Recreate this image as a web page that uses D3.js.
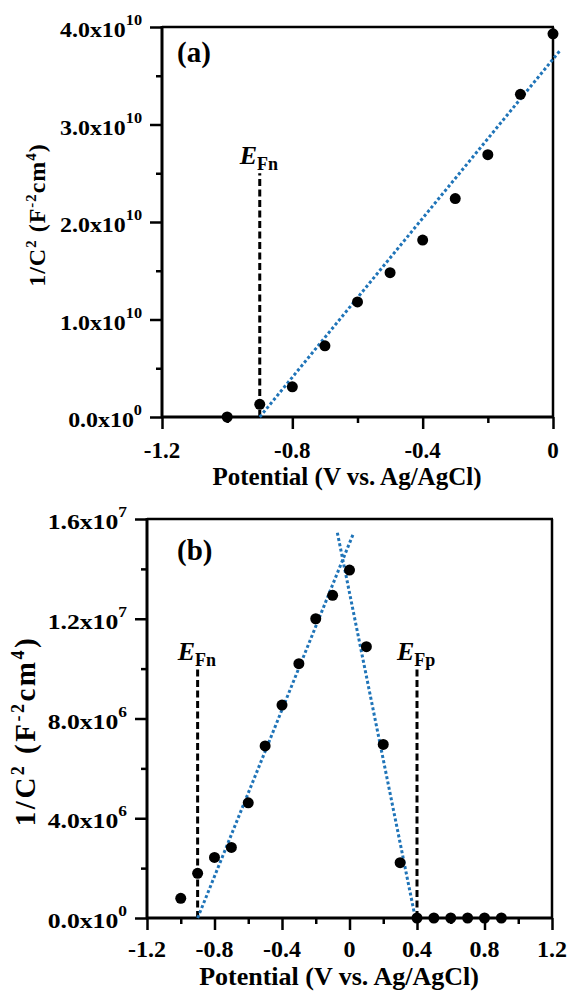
<!DOCTYPE html>
<html><head><meta charset="utf-8">
<script src="https://cdn.jsdelivr.net/npm/d3@7"></script>
<style>
body{margin:0;background:#fff}
svg{display:block}
</style>
</head><body><svg id="c" width="569" height="995"></svg>
<script>
// ---- Panel (a) data ----
const potentialA = [-1.0,-0.9,-0.8,-0.7,-0.6,-0.5,-0.4,-0.3,-0.2,-0.1,0.0];
const invC2A = [0.0,0.13e10,0.31e10,0.73e10,1.18e10,1.48e10,1.815e10,2.24e10,2.69e10,3.31e10,3.93e10];
const fitA_x = [-0.9, 0.022];
const fitA_y = [0, 3.76e10];
const efnA = [-0.9, 2.5e10];
const xTicksA = [-1.2,-0.8,-0.4,0];
const xMinorA = [-1.0,-0.6,-0.2];
const yTicksA = [0,1e10,2e10,3e10,4e10];
const yMinorA = [0.5e10,1.5e10,2.5e10,3.5e10];

// ---- Panel (b) data ----
const potentialB = [-1.0,-0.9,-0.8,-0.7,-0.6,-0.5,-0.4,-0.3,-0.2,-0.1,0.0,0.1,0.2,0.3,0.4,0.5,0.6,0.7,0.8,0.9];
const invC2B = [0.79e6,1.79e6,2.43e6,2.83e6,4.62e6,6.9e6,8.54e6,10.2e6,12.0e6,12.94e6,13.95e6,10.88e6,6.96e6,2.22e6,0,0,0,0,0,0];
const fitB1_x = [-0.9, 0.025];
const fitB1_y = [0, 15.45e6];
const fitB2_x = [-0.072, 0.39];
const fitB2_y = [15.45e6, 0];
const efnB = [-0.9, 10e6];
const efpB = [0.4, 10e6];
const xTicksB = [-1.2,-0.8,-0.4,0,0.4,0.8,1.2];
const xMinorB = [-1.0,-0.6,-0.2,0.2,0.6,1.0];
const yTicksB = [0,4e6,8e6,12e6,16e6];
const yMinorB = [2e6,6e6,10e6,14e6];

const xTitle = "Potential (V vs. Ag/AgCl)";
const FONT = "'Liberation Serif', 'Times New Roman', Tinos, serif";

const svg = d3.select("#c");
svg.append("rect").attr("width",569).attr("height",995).attr("fill","#fff");

function sci(v){
  if(v===0) return ["0.0","0"];
  const e = Math.floor(Math.log10(v)+1e-9);
  return [(v/Math.pow(10,e)).toFixed(1), String(e)];
}
function T(sel){ return sel.append("text").attr("font-family",FONT).attr("font-weight","bold").attr("fill","#000"); }

function panel(o){
  const g = svg.append("g");
  const x = d3.scaleLinear().domain(o.xd).range([o.L,o.R]);
  const y = d3.scaleLinear().domain(o.yd).range([o.B,o.T]);

  g.append("line").attr("x1",o.L).attr("x2",o.R+1).attr("y1",o.T).attr("y2",o.T).attr("stroke","#000").attr("stroke-width",2.5);
  g.append("line").attr("x1",o.R).attr("x2",o.R).attr("y1",o.T).attr("y2",o.B).attr("stroke","#000").attr("stroke-width",2.5);

  const ax = g.append("g").attr("transform",`translate(0,${o.B})`)
    .call(d3.axisBottom(x).tickValues(o.xt).tickSize(12).tickFormat(""));
  g.append("g").attr("transform",`translate(0,${o.B})`)
    .call(d3.axisBottom(x).tickValues(o.xm).tickSize(6).tickFormat(""))
    .select(".domain").remove();
  const ay = g.append("g").attr("transform",`translate(${o.L},0)`)
    .call(d3.axisLeft(y).tickValues(o.yt).tickSize(12).tickFormat(""));
  g.append("g").attr("transform",`translate(${o.L},0)`)
    .call(d3.axisLeft(y).tickValues(o.ym).tickSize(6).tickFormat(""))
    .select(".domain").remove();
  g.selectAll(".domain").attr("stroke-width",3);
  g.selectAll(".tick line").attr("stroke-width",2.5);
  ax.select(".domain").attr("d",`M${o.L-1},0H${o.R+1}`);
  ay.select(".domain").attr("d",`M0,${o.B+1}V${o.T-1}`);

  // x tick labels
  g.selectAll(".xl").data(o.xt).join(e=>T(e)).attr("class","xl")
    .attr("x",d=>x(d)).attr("y",o.B+o.xlOff).attr("text-anchor","middle")
    .attr("font-size",o.xfs).text(d=>d===0?"0":d.toFixed(1));

  // y tick labels (horizontally widened like the reference lettering)
  const yl = g.selectAll(".yl").data(o.yt).join(e=>T(e)).attr("class","yl")
    .attr("x",0).attr("y",0).attr("text-anchor","end").attr("font-size",o.yfs);
  yl.each(function(d){
    const p = sci(d); const t = d3.select(this);
    t.append("tspan").text(p[0]+"x10");
    t.append("tspan").attr("font-size",o.yfs*0.68).attr("dy",-12).text(p[1]);
  });
  let wmax = 0; yl.each(function(){ wmax = Math.max(wmax, this.getBBox().width); });
  const sx = o.ylW / wmax;
  yl.attr("transform", d=>`translate(${o.L-20},${y(d)+10}) scale(${sx},1)`);

  // x title
  T(g).attr("x",o.xtX).attr("y",o.B+o.xtOff).attr("text-anchor","middle")
    .attr("font-size",o.tfs).text(xTitle);
  // y title
  const yt = T(g).attr("transform",`translate(${o.ytX},${o.ytY}) rotate(-90)`)
    .attr("text-anchor","middle").attr("font-size",o.ytFs).attr("letter-spacing",o.ytLs);
  const sup = o.ytFs*0.62, sh = o.ytFs*0.38;
  yt.append("tspan").text("1/C");
  yt.append("tspan").attr("font-size",sup).attr("dy",-sh).text("2");
  yt.append("tspan").attr("dy",sh).text(" (F");
  yt.append("tspan").attr("font-size",sup).attr("dy",-sh).text("-2");
  yt.append("tspan").attr("dy",sh).text("cm");
  yt.append("tspan").attr("font-size",sup).attr("dy",-sh).text("4");
  yt.append("tspan").attr("dy",sh).text(")");

  // panel label
  T(g).attr("x",177).attr("y",o.lblY).attr("font-size",29).text(o.lbl);

  // Fermi level markers
  o.fermi.forEach(f=>{
    g.append("line").attr("x1",x(f.v[0])).attr("x2",x(f.v[0])).attr("y1",y(0)).attr("y2",y(f.v[1]))
      .attr("stroke","#000").attr("stroke-width",3).attr("stroke-dasharray","7,3.5");
    const t = T(g).attr("x",x(f.v[0])-20).attr("y",y(f.v[1])-9).attr("font-size",26);
    t.append("tspan").attr("font-style","italic").text("E");
    t.append("tspan").attr("font-size",18).attr("dy",6).text(f.s);
  });

  // linear fits
  const line = d3.line().x(d=>x(d[0])).y(d=>y(d[1]));
  o.fits.forEach(f=>{
    g.append("path").attr("d",line(d3.zip(f[0],f[1]))).attr("fill","none")
      .attr("stroke","#1f74b8").attr("stroke-width",3).attr("stroke-dasharray","3,2.4");
  });

  // data points
  g.selectAll(".pt").data(d3.zip(o.px,o.py)).join("circle").attr("class","pt")
    .attr("cx",d=>x(d[0])).attr("cy",d=>y(d[1])).attr("r",o.r).attr("fill","#000");
}

panel({xd:[-1.2,0], yd:[0,4e10], L:162,R:553,T:27,B:417,
  xt:xTicksA,xm:xMinorA,yt:yTicksA,ym:yMinorA, xfs:23, yfs:22, ylW:82, tfs:25, xlOff:41, xtOff:68, xtX:347,
  ytX:45, ytY:215, ytFs:24, ytLs:1, lbl:"(a)", lblY:62,
  fermi:[{v:efnA,s:"Fn"}], fits:[[fitA_x,fitA_y]], px:potentialA, py:invC2A, r:5.5});

panel({xd:[-1.2,1.2], yd:[0,16e6], L:147,R:552,T:519,B:918,
  xt:xTicksB,xm:xMinorB,yt:yTicksB,ym:yMinorB, xfs:24, yfs:22, ylW:80, tfs:26, xlOff:39, xtOff:67, xtX:339,
  ytX:35, ytY:731, ytFs:29, ytLs:2.5, lbl:"(b)", lblY:560,
  fermi:[{v:efnB,s:"Fn"},{v:efpB,s:"Fp"}], fits:[[fitB1_x,fitB1_y],[fitB2_x,fitB2_y]], px:potentialB, py:invC2B, r:5.5});
</script>
</body></html>
